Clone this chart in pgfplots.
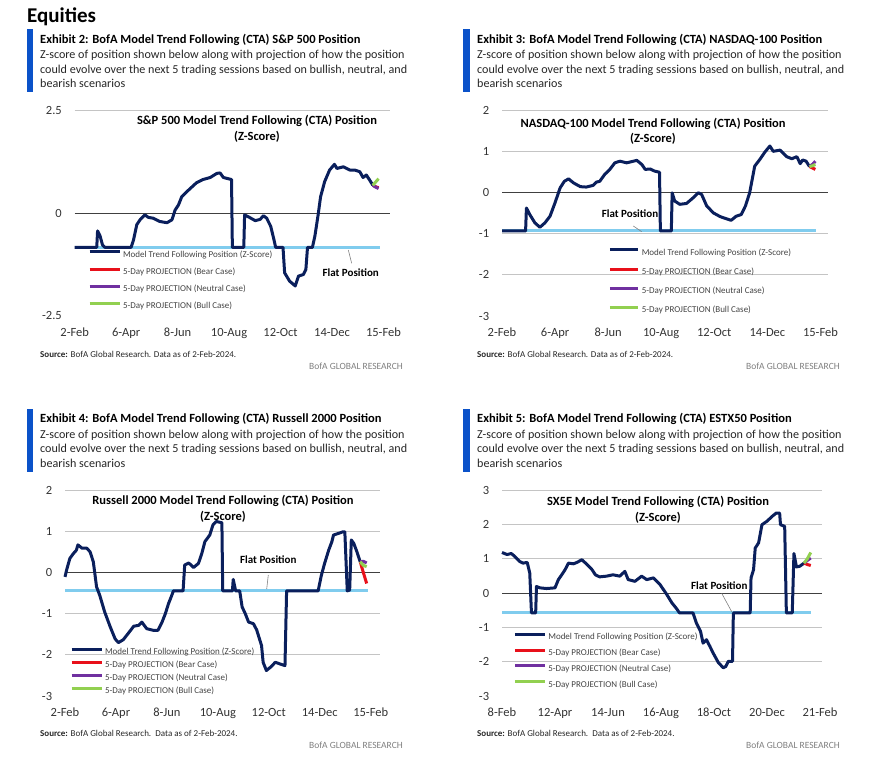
\documentclass[border=0pt]{standalone}
\usepackage{fontspec}
\setmainfont{Carlito}
\usepackage{pgfplots}
\pgfplotsset{compat=1.18}
\definecolor{navy}{HTML}{0A1F5C}
\definecolor{flatblue}{HTML}{80CCEE}
\definecolor{bearred}{HTML}{E8101A}
\definecolor{neutpurple}{HTML}{7030A0}
\definecolor{bullgreen}{HTML}{92D050}
\definecolor{barblue}{HTML}{0B52C9}
\definecolor{gridgray}{HTML}{C4C4C4}
\definecolor{zeroline}{HTML}{404040}
\definecolor{ticktext}{HTML}{333333}
\definecolor{legtext}{HTML}{444444}
\definecolor{bofagray}{HTML}{808080}
\newcommand{\fs}[1]{\fontsize{#1}{#1}\selectfont}
\pgfplotsset{cta/.style={
  scale only axis, clip=false,
  axis line style={draw=none}, tick style={draw=none},
  major tick length=0pt, minor tick length=0pt,
  xtick={0,63,126,189,252,315,378},
  xticklabel style={anchor=base, inner sep=0pt, yshift=-21pt, font=\fs{12.5}, text=ticktext},
  yticklabel style={anchor=east, inner sep=0pt, xshift=-12.7pt, font=\fs{12.5}, text=ticktext},
  yminorgrids=true, minor grid style={gridgray, line width=0.9pt},
  extra y ticks={0}, extra y tick labels={},
  extra y tick style={ymajorgrids=true, major grid style={zeroline, line width=0.9pt}},
  legend cell align=left,
  legend style={draw=none, fill=none, inner sep=0pt, outer sep=0pt, anchor=north west,
    column sep=2pt, font=\fs{9}, text=legtext,
    nodes={inner sep=0pt, text height=6.5pt, text depth=2pt}},
  every axis plot/.append style={line width=3pt, line join=round},
}}
\begin{document}
\begin{tikzpicture}[x=1pt,y=1pt]
\path[use as bounding box] (0,0) rectangle (873,778);
% ---------- headings ----------
\node[anchor=base west, inner sep=0pt, font=\bfseries\fs{21}] at (27,755) {Equities};
\foreach \bx/\by in {26.5/686, 463/686, 26.5/306, 463/306}{
  \fill[barblue] (\bx,\by) rectangle ++(6.8,63);
}
\newcommand{\exhibit}[4]{%
  \node[anchor=base west, inner sep=0pt, font=\bfseries\fs{12.5}] at (#1,#2) {#3};
  \node[anchor=base west, inner sep=0pt, font=\fs{12.1}, text=black!85] at (#1,#2-15.5) {Z-score of position shown below along with projection of how the position};
  \node[anchor=base west, inner sep=0pt, font=\fs{12.1}, text=black!85] at (#1,#2-30) {could evolve over the next 5 trading sessions based on bullish, neutral, and};
  \node[anchor=base west, inner sep=0pt, font=\fs{12.1}, text=black!85] at (#1,#2-44.5) {bearish scenarios};
  \node[anchor=base west, inner sep=0pt, font=\fs{9}, text=black!85] at (#1,#2-314) {\textbf{Source:} #4};
  \node[anchor=base east, inner sep=0pt, font=\fs{9.5}, text=bofagray] at (#1+363,#2-326) {BofA GLOBAL RESEARCH};
}
\exhibit{40}{734.5}{Exhibit 2: BofA Model Trend Following (CTA) S\&P 500 Position}{BofA Global Research. Data as of 2-Feb-2024.}
\exhibit{477}{734.5}{Exhibit 3: BofA Model Trend Following (CTA) NASDAQ-100 Position}{BofA Global Research. Data as of 2-Feb-2024.}
\exhibit{40}{355}{Exhibit 4: BofA Model Trend Following (CTA) Russell 2000 Position}{BofA Global Research.\ \ Data as of 2-Feb-2024.}
\exhibit{477}{355}{Exhibit 5: BofA Model Trend Following (CTA) ESTX50 Position}{BofA Global Research.\ \ Data as of 2-Feb-2024.}

% ---------- Panel 1: S&P 500 ----------
\begin{axis}[cta, at={(74.7pt,462pt)}, anchor=south west, width=315.3pt, height=205.5pt,
  xmin=0, xmax=386, ymin=-2.5, ymax=2.5,
  xticklabels={2-Feb,6-Apr,8-Jun,10-Aug,12-Oct,14-Dec,15-Feb},
  ytick={-2.5,0,2.5}, yticklabels={-2.5,0,2.5}, minor ytick={2.5},
  legend style={at={(0.0422,0.3187)}, row sep=8.5pt},
  legend image code/.code={\draw[#1] (0pt,3pt) -- (30pt,3pt);}]
\addplot[flatblue, forget plot] coordinates {(0,-0.83)(374,-0.83)};
\addplot[navy] coordinates {(0,-0.83)(27,-0.83)(28,-0.43)(31,-0.55)(34,-0.77)(37,-0.83)(69,-0.83)(72,-0.65)(76,-0.28)(80,-0.16)(86,-0.04)(90,-0.10)(96,-0.12)(104,-0.20)(113,-0.23)(119,-0.16)(123,0.08)(127,0.20)(131,0.40)(137,0.52)(143,0.63)(149,0.74)(157,0.82)(166,0.87)(174,0.97)(178,0.98)(182,0.87)(192,0.82)(193,-0.83)(207,-0.83)(208,-0.04)(212,-0.08)(221,-0.18)(227,-0.15)(231,-0.06)(235,-0.12)(240,-0.32)(244,-0.65)(246,-0.83)(255,-0.83)(257,-1.45)(263,-1.65)(270,-1.77)(274,-1.53)(280,-1.49)(283,-1.37)(285,-0.83)(291,-0.83)(294,-0.56)(298,-0.04)(301,0.40)(306,0.77)(312,1.05)(318,1.19)(321,1.09)(329,1.13)(337,1.05)(343,1.05)(349,1.01)(353,0.87)(357,0.93)(361,0.81)(365,0.68)};
\addlegendentry{Model Trend Following Position (Z-Score)}
\addplot[bearred] coordinates {(365,0.68)(368,0.65)(372,0.62)};
\addlegendentry{5-Day PROJECTION (Bear Case)}
\addplot[neutpurple] coordinates {(365,0.68)(368,0.64)(372,0.60)};
\addlegendentry{5-Day PROJECTION (Neutral Case)}
\addplot[bullgreen] coordinates {(365,0.68)(368,0.75)(372,0.84)};
\addlegendentry{5-Day PROJECTION (Bull Case)}
\end{axis}

% ---------- Panel 2: NASDAQ-100 ----------
\begin{axis}[cta, at={(502pt,462pt)}, anchor=south west, width=326pt, height=205.3pt,
  xmin=0, xmax=387, ymin=-3, ymax=2,
  xticklabels={2-Feb,6-Apr,8-Jun,10-Aug,12-Oct,14-Dec,15-Feb},
  ytick={-3,-2,-1,0,1,2}, yticklabels={-3,-2,-1,0,1,2}, minor ytick={-2,-1,1,2},
  legend style={at={(0.326,0.329)}, row sep=10.5pt},
  legend image code/.code={\draw[#1] (0pt,3pt) -- (28.5pt,3pt);}]
\addplot[flatblue, forget plot] coordinates {(0,-0.93)(373,-0.93)};
\addplot[navy] coordinates {(0,-0.93)(28,-0.93)(29,-0.37)(33,-0.53)(39,-0.73)(45,-0.84)(51,-0.73)(57,-0.57)(63,-0.24)(69,0.12)(74,0.28)(79,0.34)(85,0.24)(93,0.15)(100,0.14)(108,0.18)(112,0.26)(116,0.28)(122,0.45)(128,0.57)(134,0.73)(140,0.77)(148,0.73)(160,0.79)(166,0.69)(170,0.57)(176,0.58)(181,0.53)(187,0.50)(188,-0.93)(201,-0.93)(202,0.0)(205,-0.20)(211,-0.28)(219,-0.26)(227,-0.12)(233,0.0)(237,-0.04)(243,-0.32)(251,-0.49)(259,-0.58)(266,-0.63)(272,-0.67)(278,-0.57)(284,-0.53)(289,-0.32)(294,0.0)(300,0.65)(306,0.81)(312,0.99)(318,1.14)(322,1.01)(330,1.04)(338,0.88)(344,0.83)(350,0.88)(354,0.71)(357,0.80)(361,0.77)(365,0.64)};
\addlegendentry{Model Trend Following Position (Z-Score)}
\addplot[bearred] coordinates {(365,0.64)(369,0.60)(372,0.57)};
\addlegendentry{5-Day PROJECTION (Bear Case)}
\addplot[neutpurple] coordinates {(365,0.64)(369,0.70)(372,0.77)};
\addlegendentry{5-Day PROJECTION (Neutral Case)}
\addplot[bullgreen] coordinates {(365,0.64)(369,0.66)(372,0.69)};
\addlegendentry{5-Day PROJECTION (Bull Case)}
\end{axis}

% ---------- Panel 3: Russell 2000 ----------
\begin{axis}[cta, at={(65pt,82pt)}, anchor=south west, width=314.6pt, height=205.3pt,
  xmin=0, xmax=389, ymin=-3, ymax=2,
  xticklabels={2-Feb,6-Apr,8-Jun,10-Aug,12-Oct,14-Dec,15-Feb},
  ytick={-3,-2,-1,0,1,2}, yticklabels={-3,-2,-1,0,1,2}, minor ytick={-2,-1,1,2},
  legend style={at={(0.0159,0.236)}, row sep=4.3pt},
  legend image code/.code={\draw[#1] (0pt,3pt) -- (30pt,3pt);}]
\addplot[flatblue, forget plot] coordinates {(0,-0.44)(375,-0.44)};
\addplot[navy] coordinates {(0,-0.10)(2,0.07)(6,0.35)(10,0.46)(14,0.55)(16,0.68)(21,0.60)(27,0.60)(31,0.51)(35,0.27)(39,-0.34)(43,-0.55)(49,-0.95)(56,-1.32)(62,-1.61)(66,-1.70)(72,-1.63)(78,-1.48)(85,-1.30)(91,-1.28)(95,-1.20)(101,-1.36)(109,-1.40)(115,-1.40)(120,-1.20)(124,-1.00)(128,-0.75)(132,-0.55)(134,-0.44)(146,-0.44)(148,0.19)(153,0.24)(159,0.13)(165,0.23)(169,0.46)(173,0.76)(179,0.92)(183,1.17)(187,1.25)(194,1.22)(195,-0.44)(207,-0.44)(208,-0.16)(211,-0.44)(216,-0.44)(219,-0.83)(223,-1.00)(227,-1.20)(233,-1.24)(237,-1.39)(243,-1.77)(245,-2.18)(249,-2.38)(254,-2.30)(260,-2.18)(266,-2.22)(272,-2.26)(274,-0.44)(313,-0.44)(317,-0.06)(321,0.23)(326,0.55)(330,0.76)(332,0.92)(338,0.96)(344,1.00)(346,1.00)(349,-0.44)(352,-0.42)(354,0.80)(357,0.72)(361,0.51)(365,0.27)};
\addlegendentry{Model Trend Following Position (Z-Score)}
\addplot[bearred] coordinates {(365,0.27)(369,0.00)(373,-0.26)};
\addlegendentry{5-Day PROJECTION (Bear Case)}
\addplot[neutpurple] coordinates {(365,0.27)(369,0.28)(373,0.24)};
\addlegendentry{5-Day PROJECTION (Neutral Case)}
\addplot[bullgreen] coordinates {(365,0.27)(369,0.18)(373,0.15)};
\addlegendentry{5-Day PROJECTION (Bull Case)}
\end{axis}

% ---------- Panel 4: SX5E ----------
\begin{axis}[cta, at={(502pt,82pt)}, anchor=south west, width=319.7pt, height=206pt,
  xmin=0, xmax=380, ymin=-3, ymax=3,
  xticklabels={8-Feb,12-Apr,14-Jun,16-Aug,18-Oct,20-Dec,21-Feb},
  ytick={-3,-2,-1,0,1,2,3}, yticklabels={-3,-2,-1,0,1,2,3}, minor ytick={-2,-1,1,2,3},
  legend style={at={(0.0354,0.308)}, row sep=7.2pt},
  legend image code/.code={\draw[#1] (0pt,3pt) -- (30pt,3pt);}]
\addplot[flatblue, forget plot] coordinates {(0,-0.58)(367,-0.58)};
\addplot[navy] coordinates {(0,1.18)(6,1.12)(11,1.15)(15,1.07)(21,0.92)(25,0.87)(30,0.89)(33,0.58)(35,-0.58)(40,-0.58)(41,0.19)(45,0.15)(53,0.13)(63,0.15)(67,0.39)(71,0.53)(75,0.68)(79,0.87)(85,0.85)(89,0.89)(95,0.97)(101,0.83)(107,0.68)(111,0.53)(116,0.47)(124,0.49)(132,0.53)(140,0.49)(146,0.63)(150,0.39)(158,0.34)(166,0.49)(172,0.39)(180,0.44)(188,0.24)(196,-0.05)(202,-0.29)(207,-0.44)(211,-0.58)(227,-0.58)(231,-0.87)(236,-1.12)(239,-1.46)(243,-1.36)(247,-1.55)(251,-1.75)(257,-2.02)(263,-2.18)(266,-2.14)(269,-1.99)(274,-1.99)(275,-0.58)(295,-0.58)(296,0.44)(299,0.68)(301,1.31)(305,1.46)(309,1.99)(315,2.09)(321,2.23)(326,2.33)(330,2.33)(331,1.99)(336,1.94)(338,-0.58)(345,-0.58)(347,1.15)(350,0.76)(354,0.78)(359,0.87)};
\addlegendentry{Model Trend Following Position (Z-Score)}
\addplot[bearred] coordinates {(359,0.87)(363,0.83)(367,0.80)};
\addlegendentry{5-Day PROJECTION (Bear Case)}
\addplot[neutpurple] coordinates {(359,0.87)(363,0.95)(367,1.02)};
\addlegendentry{5-Day PROJECTION (Neutral Case)}
\addplot[bullgreen] coordinates {(359,0.87)(363,1.00)(367,1.18)};
\addlegendentry{5-Day PROJECTION (Bull Case)}
\end{axis}

% ---------- in-plot titles and Flat Position labels ----------
\foreach \cx/\by/\txt in {257/653/S\&P 500, 653/650.5/NASDAQ-100, 223/273/Russell 2000, 658/272/SX5E}{
  \node[anchor=base, inner sep=0pt, font=\bfseries\fs{12.5}] at (\cx,\by) {\txt\ Model Trend Following (CTA) Position};
  \node[anchor=base, inner sep=0pt, font=\bfseries\fs{12.5}] at (\cx,\by-15.5) {(Z-Score)};
}
\node[anchor=base, inner sep=0pt, font=\bfseries\fs{11}] at (350.7,501) {Flat Position};
\draw[gray, line width=0.6pt] (348.3,528) -- (351.7,514.7);
\node[anchor=base, inner sep=0pt, font=\bfseries\fs{11}] at (630,560) {Flat Position};
\draw[gray, line width=0.6pt] (633.3,552) -- (641.7,546.3);
\node[anchor=base, inner sep=0pt, font=\bfseries\fs{11}] at (268.3,214) {Flat Position};
\draw[gray, line width=0.6pt] (268.3,203) -- (266.7,189);
\node[anchor=base, inner sep=0pt, font=\bfseries\fs{11}] at (719.3,188) {Flat Position};
\draw[gray, line width=0.6pt] (721.7,184.7) -- (731.7,166.3);
\end{tikzpicture}
\end{document}
